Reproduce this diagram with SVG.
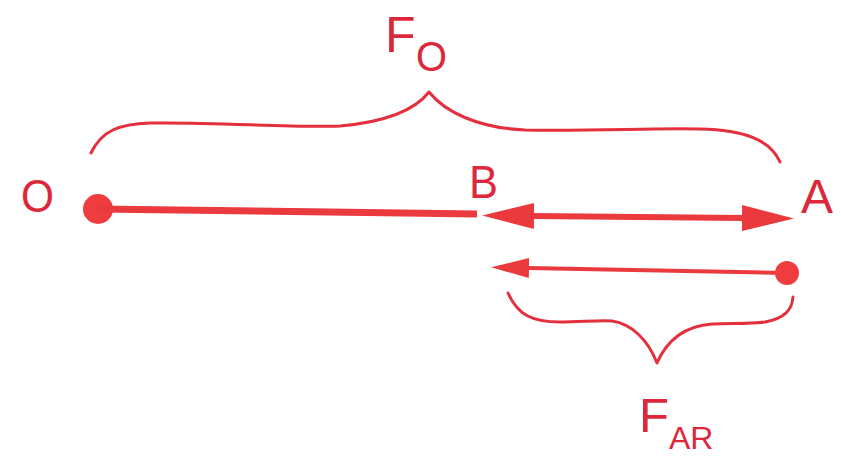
<svg xmlns="http://www.w3.org/2000/svg" width="841" height="461" viewBox="0 0 841 461">
  <style>
    .lbl { font-family: "Liberation Sans", Arial, sans-serif; fill: #dc283a; }
    .brace { fill: none; stroke: #e3303c; stroke-width: 3; stroke-linecap: round; stroke-linejoin: round; }
    .shaft { stroke: #ea3a3e; stroke-linecap: butt; }
    .dot { fill: #ef3d3f; }
  </style>
  <defs>
    <marker id="headBig" markerUnits="userSpaceOnUse" viewBox="0 -14 53 28" refX="1" refY="0" markerWidth="53" markerHeight="28" orient="auto-start-reverse">
      <path d="M0,-13 L52,0 L0,13 Z" fill="#ea3a3e"/>
    </marker>
    <marker id="headSmall" markerUnits="userSpaceOnUse" viewBox="0 -11 40 22" refX="1" refY="0" markerWidth="40" markerHeight="22" orient="auto-start-reverse">
      <path d="M0,-10 L38,0 L0,10 Z" fill="#ea3a3e"/>
    </marker>
  </defs>
  <rect width="841" height="461" fill="#ffffff"/>

  <g id="brace-FO">
    <path class="brace" d="M91,153 C102,130 120,124 150,123 C220,122 290,128 340,126 C385,122 415,110 429,92 C445,112 478,128 525,130 C600,131 650,128 700,129 C745,130 770,140 780,162"/>
    <text class="lbl" x="385" y="52" font-size="50">F</text>
    <text class="lbl" x="416" y="71" font-size="42" textLength="31" lengthAdjust="spacingAndGlyphs">O</text>
  </g>

  <g id="point-O">
    <text class="lbl" x="21" y="212" font-size="46" textLength="33" lengthAdjust="spacingAndGlyphs">O</text>
    <circle class="dot" cx="98" cy="209" r="15"/>
  </g>

  <g id="point-B">
    <text class="lbl" x="469" y="198" font-size="46" textLength="29" lengthAdjust="spacingAndGlyphs">B</text>
  </g>

  <g id="point-A">
    <text class="lbl" x="801" y="213" font-size="48">A</text>
  </g>

  <g id="brace-FAR">
    <path class="brace" d="M508,293 C518,315 532,322 560,322 C580,322 600,320 612,321 C632,324 648,340 657,363 C667,340 685,326 712,324 C730,323 750,324 765,322 C785,318 792,310 793,297"/>
    <text class="lbl" x="639" y="432" font-size="49">F</text>
    <text class="lbl" x="669" y="449" font-size="32">AR</text>
  </g>

  <g id="connectors">
    <line class="shaft" x1="98" y1="209" x2="477" y2="214" stroke-width="7"/>
    <line class="shaft" x1="533" y1="216" x2="743" y2="218" stroke-width="6" marker-start="url(#headBig)" marker-end="url(#headBig)"/>
    <line class="shaft" x1="528" y1="268" x2="787" y2="273" stroke-width="4" marker-start="url(#headSmall)"/>
    <circle class="dot" cx="787" cy="273" r="12"/>
  </g>
</svg>
